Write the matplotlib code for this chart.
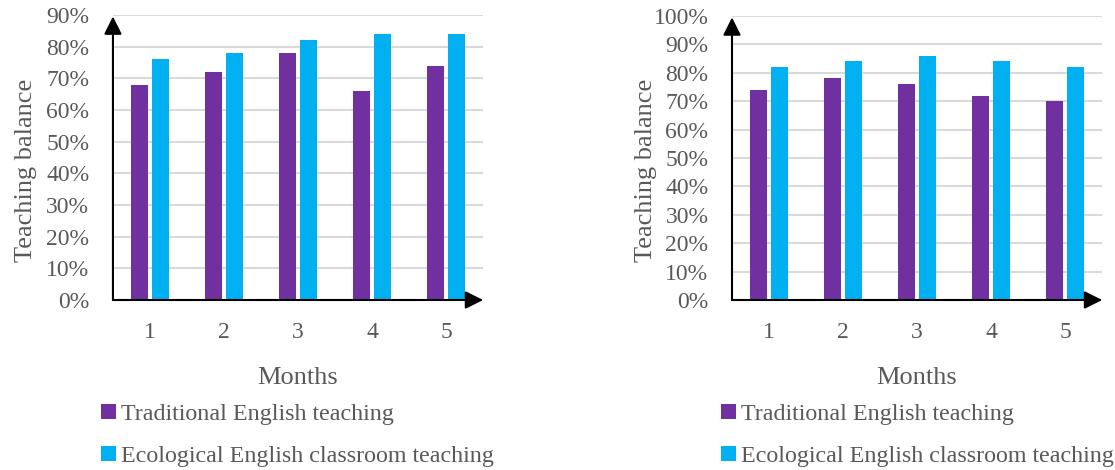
import matplotlib
matplotlib.use("Agg")
import matplotlib.pyplot as plt
import numpy as np
from matplotlib.patches import Patch
from matplotlib.ticker import PercentFormatter

months = ["1", "2", "3", "4", "5"]
series_names = ["Traditional English teaching", "Ecological English classroom teaching"]
left_traditional = [0.68, 0.72, 0.78, 0.66, 0.74]
left_ecological = [0.76, 0.78, 0.82, 0.84, 0.84]
right_traditional = [0.74, 0.78, 0.76, 0.72, 0.70]
right_ecological = [0.82, 0.84, 0.86, 0.84, 0.82]

PURPLE = "#7030A0"
BLUE = "#00B0F0"
TXT = "#595959"
GRID = "#D9D9D9"

plt.rcParams["font.family"] = ["Liberation Serif", "DejaVu Serif"]

fig = plt.figure(figsize=(11.15, 4.70), dpi=100)

def draw(rect, trad, eco, ymax, legend_x, ylab_x):
    ax = fig.add_axes(rect)
    x = np.arange(len(months))
    w = 0.23
    off = 0.145
    ax.bar(x - off, trad, width=w, color=PURPLE, zorder=3)
    ax.bar(x + off, eco, width=w, color=BLUE, zorder=3)
    ax.set_xlim(-0.5, len(months) - 0.5)
    ax.set_ylim(0, ymax)
    ax.set_yticks(np.arange(0, ymax + 0.001, 0.1))
    ax.yaxis.set_major_formatter(PercentFormatter(1.0, decimals=0))
    ax.set_xticks(x)
    ax.set_xticklabels(months)
    ax.tick_params(axis="both", length=0, colors=TXT, labelsize=17)
    ax.tick_params(axis="x", pad=16)
    ax.tick_params(axis="y", pad=17)
    ax.grid(axis="y", color=GRID, linewidth=1.5, zorder=0)
    for s in ax.spines.values():
        s.set_visible(False)
    ax.set_ylabel("Teaching balance", fontsize=19, color=TXT)
    ax.yaxis.set_label_coords(ylab_x, 0.456)
    ax.set_xlabel("Months", fontsize=19, color=TXT, labelpad=17)
    # axis arrows
    for end in [(0, 0.995), (1.0, 0)]:
        ax.annotate("", xy=end, xycoords="axes fraction", xytext=(0, 0),
                    textcoords="axes fraction",
                    arrowprops=dict(arrowstyle="-|>", color="black", lw=1.5,
                                    mutation_scale=27, shrinkA=0, shrinkB=0),
                    annotation_clip=False, zorder=5)
    handles = [Patch(facecolor=PURPLE), Patch(facecolor=BLUE)]
    leg = fig.legend(handles, series_names, loc="upper left",
                     bbox_to_anchor=(legend_x, 0.1404), frameon=False,
                     fontsize=17.3, handlelength=0.6, handleheight=0.6,
                     handletextpad=0.2, labelspacing=0.87, borderaxespad=0,
                     borderpad=0)
    for t in leg.get_texts():
        t.set_color(TXT)
    return ax

draw([0.1013, 0.3617, 0.332, 0.6063], left_traditional, left_ecological, 0.9, 0.091, -0.205)
draw([0.6565, 0.3617, 0.332, 0.6043], right_traditional, right_ecological, 1.0, 0.647, -0.203)

fig.savefig("out.png", dpi=100)
